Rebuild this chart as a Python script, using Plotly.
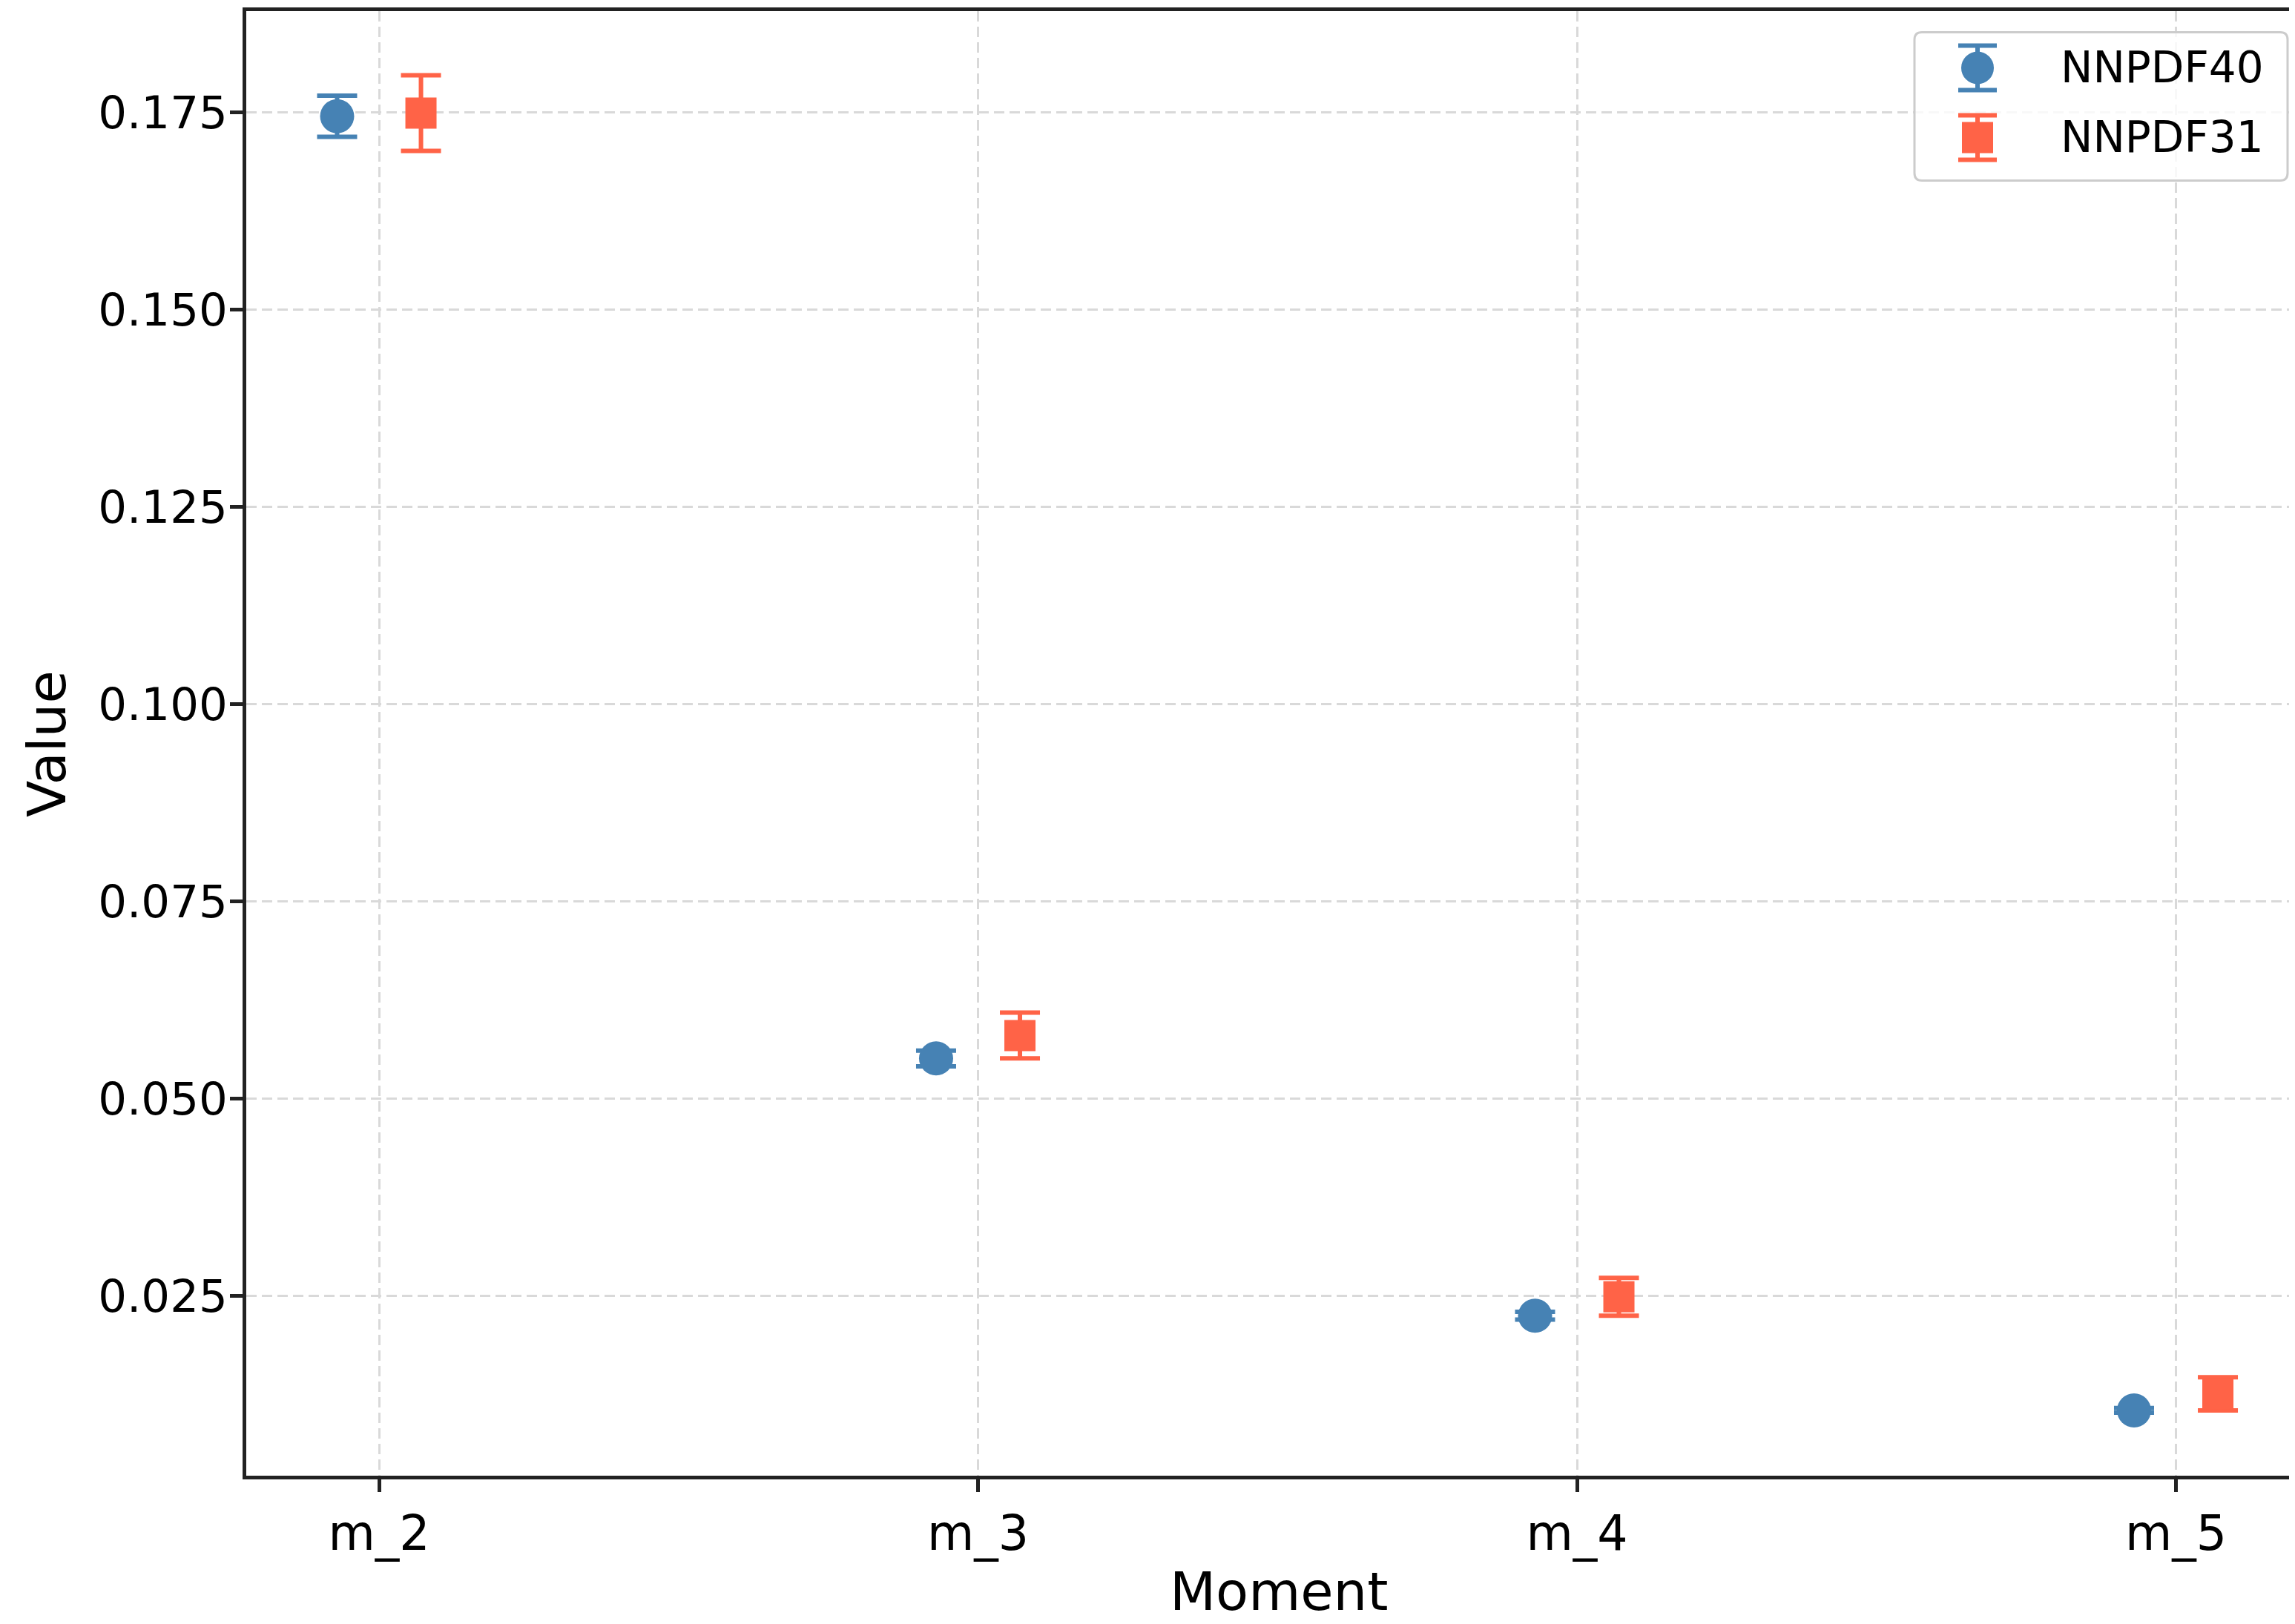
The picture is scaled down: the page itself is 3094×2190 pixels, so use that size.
import plotly.graph_objects as go

# ---------------- data ----------------
moments = ["m_2", "m_3", "m_4", "m_5"]
nnpdf40_vals = [0.1745, 0.0551, 0.0225, 0.0105]
nnpdf40_errs = [0.0026, 0.0010, 0.0005, 0.0003]
nnpdf31_vals = [0.1749, 0.0580, 0.0249, 0.0126]
nnpdf31_errs = [0.0048, 0.0029, 0.0024, 0.0021]
series_names = ["NNPDF40", "NNPDF31"]
y_ticks = [0.025, 0.05, 0.075, 0.1, 0.125, 0.15, 0.175]
y_ticktext = ["0.025", "0.050", "0.075", "0.100", "0.125", "0.150", "0.175"]
offset = 0.07

# ---------------- layout geometry (screen pixels) ----------------
SW, SH = 3094, 2190      # browser window
BODY = 8                 # default body margin of the html page
FW, FH = SW - BODY, SH - BODY
LW = 5                   # axis line width
ax_left, ax_top, ax_bottom = 329.5, 12.0, 1993.0   # axis line centres
plot_l = ax_left + LW / 2
plot_t = ax_top + LW / 2
plot_b = ax_bottom - LW / 2
plot_r = SW
x0_px, dx_px = 511.0, 807.5      # category 0 pixel, pixels per category
y175_px, y025_px = 151.0, 1748.0  # pixel rows of 0.175 and 0.025

L = plot_l - BODY
T = plot_t - BODY
B = FH - (plot_b - BODY)
R = 0

xr = [(plot_l - x0_px) / dx_px, (plot_r - x0_px) / dx_px]
ppu = (y025_px - y175_px) / 0.15     # pixels per unit value
yr = [0.025 - (plot_b - y025_px) / ppu, 0.175 + (y175_px - plot_t) / ppu]

def px_x(p):
    return (p - plot_l) / (plot_r - plot_l)

def px_y(p):
    return (plot_b - p) / (plot_b - plot_t)

xpos = list(range(len(moments)))
font = "DejaVu Sans"
c40, c31 = "#4682B4", "#FF6347"

fig = go.Figure()
fig.add_trace(go.Scatter(
    x=[i - offset for i in xpos], y=nnpdf40_vals, mode="markers", name=series_names[0],
    marker=dict(symbol="circle", size=46, color=c40, line=dict(width=0)),
    error_y=dict(type="data", array=nnpdf40_errs, visible=True, color=c40,
                 thickness=6, width=27),
))
fig.add_trace(go.Scatter(
    x=[i + offset for i in xpos], y=nnpdf31_vals, mode="markers", name=series_names[1],
    marker=dict(symbol="square", size=42, color=c31, line=dict(width=0)),
    error_y=dict(type="data", array=nnpdf31_errs, visible=True, color=c31,
                 thickness=6, width=27),
))

# ---------------- legend box and keys (paper coordinates) ----------------
leg_l, leg_r, leg_t, leg_b = 2581, 3084, 43, 243
key_x, txt_x = 2666, 2776
key_y = [91, 185]
key_err, cap_half, lw_key = 30, 26, 6
rad = 10

def P(x, y):
    return f"{px_x(x):.6f},{px_y(y):.6f}"

box = (f"M {P(leg_l + rad, leg_t)} L {P(leg_r - rad, leg_t)} Q {P(leg_r, leg_t)} {P(leg_r, leg_t + rad)} "
       f"L {P(leg_r, leg_b - rad)} Q {P(leg_r, leg_b)} {P(leg_r - rad, leg_b)} "
       f"L {P(leg_l + rad, leg_b)} Q {P(leg_l, leg_b)} {P(leg_l, leg_b - rad)} "
       f"L {P(leg_l, leg_t + rad)} Q {P(leg_l, leg_t)} {P(leg_l + rad, leg_t)} Z")

shapes = [dict(type="path", path=box, xref="paper", yref="paper", layer="above",
               fillcolor="rgba(255,255,255,0.8)", line=dict(color="#cccccc", width=3))]

def key_shapes(ky, color, symbol, half):
    s = []
    ln = dict(color=color, width=lw_key)
    s.append(dict(type="line", xref="paper", yref="paper", layer="above", line=ln,
                  x0=px_x(key_x), x1=px_x(key_x), y0=px_y(ky - key_err), y1=px_y(ky + key_err)))
    for e in (-key_err, key_err):
        s.append(dict(type="line", xref="paper", yref="paper", layer="above", line=ln,
                      x0=px_x(key_x - cap_half), x1=px_x(key_x + cap_half),
                      y0=px_y(ky + e), y1=px_y(ky + e)))
    s.append(dict(type=symbol, xref="paper", yref="paper", layer="above",
                  fillcolor=color, line=dict(width=0),
                  x0=px_x(key_x - half), x1=px_x(key_x + half),
                  y0=px_y(ky + half), y1=px_y(ky - half)))
    return s

shapes += key_shapes(key_y[0], c40, "circle", 22)
shapes += key_shapes(key_y[1], c31, "rect", 21)

grid = dict(showgrid=True, gridcolor="#d9d9d9", gridwidth=3, griddash="14px,7px")

annotations = [
    dict(text="Moment", xref="paper", yref="paper", x=px_x(1724), y=px_y(2147),
         xanchor="center", yanchor="middle", showarrow=False,
         font=dict(size=72, family=font, color="black")),
    dict(text="Value", xref="paper", yref="paper", x=px_x(63), y=px_y(1003), textangle=-90,
         xanchor="center", yanchor="middle", showarrow=False,
         font=dict(size=72, family=font, color="black")),
]
for name, ky in zip(series_names, key_y):
    annotations.append(dict(text=name, xref="paper", yref="paper", x=px_x(txt_x), y=px_y(ky),
                            xanchor="left", yanchor="middle", showarrow=False,
                            font=dict(size=58, family=font, color="black")))

fig.update_layout(
    width=FW, height=FH,
    margin=dict(l=L, r=R, t=T, b=B, pad=0, autoexpand=False),
    paper_bgcolor="white", plot_bgcolor="white",
    font=dict(family=font, color="black"),
    showlegend=False,
    xaxis=dict(
        range=xr, tickmode="array", tickvals=xpos, ticktext=moments,
        tickfont=dict(size=65, family=font, color="black"),
        showline=True, linecolor="#222222", linewidth=LW, mirror=True,
        ticks="outside", ticklen=17, tickwidth=5, tickcolor="#222222",
        zeroline=False, **grid,
    ),
    yaxis=dict(
        range=yr, tickmode="array", tickvals=y_ticks, ticktext=y_ticktext,
        tickfont=dict(size=61, family=font, color="black"),
        ticklabelstandoff=-9,
        showline=True, linecolor="#222222", linewidth=LW, mirror=False,
        ticks="outside", ticklen=17, tickwidth=5, tickcolor="#222222",
        zeroline=False, **grid,
    ),
    shapes=shapes,
    annotations=annotations,
)

fig.write_html("out.html")
